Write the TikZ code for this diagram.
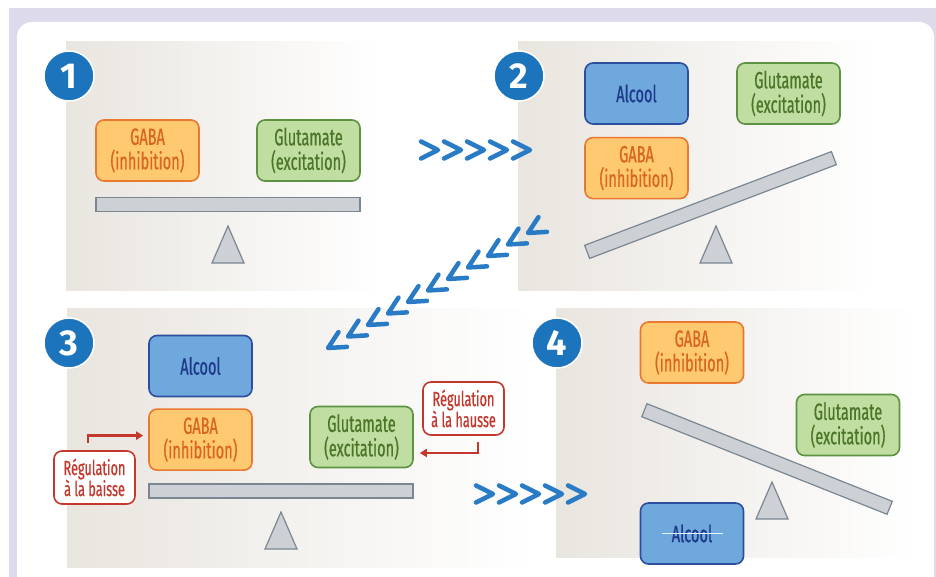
\documentclass[tikz,border=0pt]{standalone}
\usepackage{fontspec}
\setmainfont{Fira Sans}
\newfontfamily\condfont{Fira Sans}[FakeStretch=0.62,FakeBold=0.6]
\usetikzlibrary{positioning,arrows.meta}

\definecolor{lavender}{HTML}{DDDAEC}
\definecolor{panelgray}{HTML}{E9E5DF}
\definecolor{numblue}{HTML}{1C75BC}
\definecolor{chevblue}{HTML}{2A7BC6}
\definecolor{gabafill}{HTML}{FFC972}
\definecolor{gabaline}{HTML}{E8792E}
\definecolor{gabatext}{HTML}{D8661E}
\definecolor{glufill}{HTML}{C0DDA2}
\definecolor{gluline}{HTML}{5C9242}
\definecolor{glutext}{HTML}{4B7628}
\definecolor{alcfill}{HTML}{6FA8DC}
\definecolor{alcline}{HTML}{2C4E9F}
\definecolor{alctext}{HTML}{1E388A}
\definecolor{regred}{HTML}{C4372C}
\definecolor{beamfill}{HTML}{CDD0D4}
\definecolor{beamline}{HTML}{7A8793}

\tikzset{
  panel/.style={left color=panelgray, right color=white, draw=none},
  numdot/.style={circle, fill=numblue, draw=white, line width=1.5pt,
    minimum size=50pt, inner sep=0pt, text=white,
    font=\fontsize{36}{36}\selectfont\bfseries},
  box/.style={rounded corners=8pt, line width=1.6pt, minimum width=103pt,
    minimum height=61pt, inner sep=0pt, align=center,
    font=\condfont\fontsize{23.5}{24.5}\selectfont},
  gababox/.style={box, fill=gabafill, draw=gabaline, text=gabatext},
  glubox/.style={box, fill=glufill, draw=gluline, text=glutext},
  alcbox/.style={box, fill=alcfill, draw=alcline, text=alctext},
  regbox/.style={rounded corners=8pt, line width=1.6pt, fill=white, draw=regred,
    text=regred, minimum width=81pt, minimum height=53pt, inner sep=0pt,
    align=center, font=\condfont\fontsize{20.5}{21}\selectfont},
  regarrow/.style={draw=regred, line width=2.4pt,
    -{Triangle[length=7pt,width=8pt]}},
  beam/.style={rectangle, fill=beamfill, draw=beamline, line width=1.2pt,
    minimum width=264pt, minimum height=14pt, inner sep=0pt},
  chev/.pic={\draw[chevblue, line width=4.5pt, line cap=round, line join=round]
    (-17,-8.5) -- (0,0) -- (-17,8.5);},
  fulcrum/.pic={\draw[fill=beamfill, draw=beamline, line width=1.2pt]
    (0,0) -- (-16,37) -- (16,37) -- cycle;}
}

\begin{document}
\begin{tikzpicture}[x=1pt,y=-1pt]
\useasboundingbox (0,0) rectangle (936,577);
\fill[lavender] (9,8) rectangle (936,577);
\fill[white, rounded corners=15pt] (17,600) -- (17,22) -- (934,22) -- (934,600);

\shade[panel] (66,42) rectangle (381,290);
\shade[panel] (518,42) rectangle (875,290);
\shade[panel] (67,308) rectangle (530,567);
\shade[panel] (556,308) rectangle (913,557);

\foreach \i in {0,...,4}
  \pic at (438+23*\i,150) {chev};
\foreach \i in {0,...,10}
  \pic[rotate=210] at (528-20*\i,233+11.5*\i) {chev};
\foreach \i in {0,...,4}
  \pic at (493+23*\i,494) {chev};

\node[numdot] (n1) at (69,76) {1};
\node[gababox] (gaba1) at (147.5,150.5) {GABA\\(inhibition)};
\node[glubox] (glu1) at (308.5,150.5) {Glutamate\\(excitation)};
\node[beam] (beam1) at (228,204.5) {};
\pic at (228,226) {fulcrum};

\node[numdot] (n2) at (519,76) {2};
\node[alcbox] (alc2) at (636.5,93.5) {Alcool};
\node[gababox, below=12pt of alc2] (gaba2) {GABA\\(inhibition)};
\node[glubox] (glu2) at (788.5,93.5) {Glutamate\\(excitation)};
\node[beam, rotate=20.8] (beam2) at (710.5,205) {};
\pic at (716,226) {fulcrum};

\node[numdot] (n3) at (69,343) {3};
\node[alcbox] (alc3) at (200.5,366) {Alcool};
\node[gababox, below=11pt of alc3] (gaba3) {GABA\\(inhibition)};
\node[glubox] (glu3) at (361.5,437) {Glutamate\\(excitation)};
\node[beam] (beam3) at (281,491) {};
\pic at (281,512) {fulcrum};
\node[regbox] (baisse) at (94.5,477.5) {Régulation\\à la baisse};
\node[regbox] (hausse) at (463.5,408.5) {Régulation\\à la hausse};
\draw[regarrow, shorten <=7pt, shorten >=5pt]
  ([xshift=-6.5pt]baisse.north) |- ([yshift=4pt]gaba3.west);
\draw[regarrow, shorten <=6pt, shorten >=6pt]
  ([xshift=14.5pt]hausse.south) |- ([yshift=-16pt]glu3.east);

\node[numdot] (n4) at (557,343) {4};
\node[gababox] (gaba4) at (692,352.5) {GABA\\(inhibition)};
\node[glubox] (glu4) at (848,425) {Glutamate\\(excitation)};
\node[beam, rotate=-21.7] (beam4) at (767,459) {};
\pic at (772,482) {fulcrum};
\node[alcbox] (alc4) at (692,533.5) {Alcool};
\draw[white!85!alcfill, line width=1.8pt]
  ([xshift=-30pt]alc4.center) -- ([xshift=31pt]alc4.center);
\end{tikzpicture}
\end{document}
